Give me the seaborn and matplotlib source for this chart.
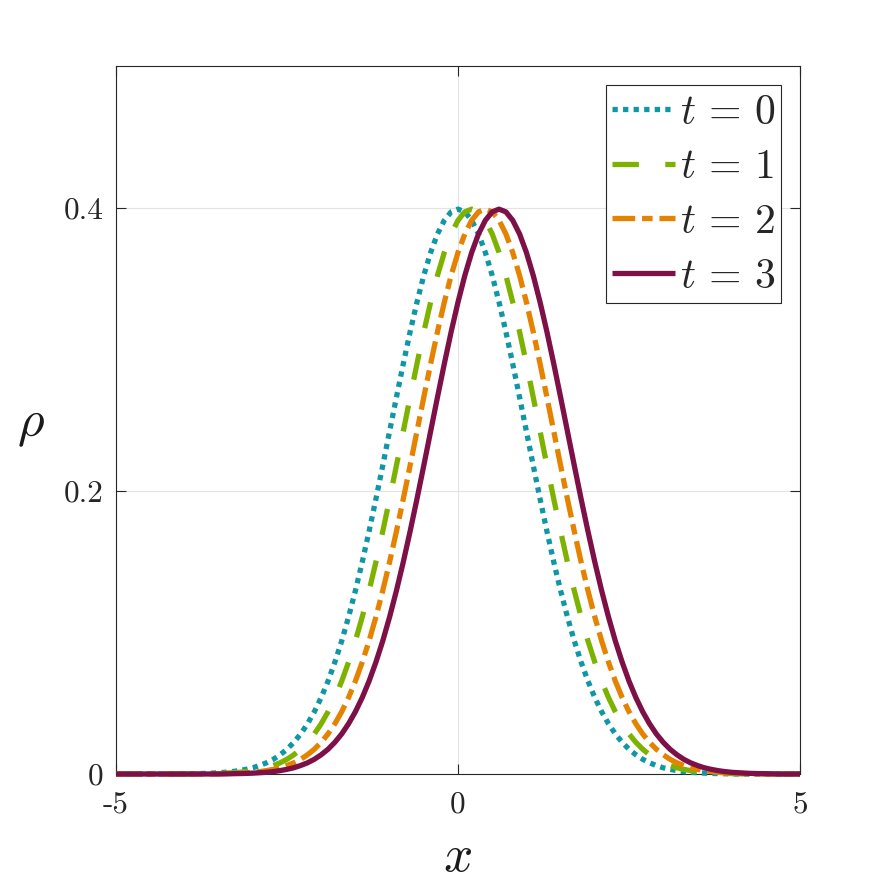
import numpy as np
import pandas as pd
import matplotlib
matplotlib.use("Agg")
import matplotlib.pyplot as plt
import seaborn as sns

# ---- data ----
x_values = np.linspace(-5, 5, 101)

rho_t0 = [0, 0, 0, 0, 0, 0, 0, 0, 0, 0,
          0.0001, 0.0002, 0.0003, 0.0004, 0.0006, 0.0009, 0.0012, 0.0017, 0.0024, 0.0033,
          0.0044, 0.0060, 0.0079, 0.0104, 0.0136, 0.0175, 0.0224, 0.0283, 0.0355, 0.0440,
          0.0540, 0.0656, 0.0790, 0.0940, 0.1109, 0.1295, 0.1497, 0.1714, 0.1942, 0.2179,
          0.2420, 0.2661, 0.2897, 0.3123, 0.3332, 0.3521, 0.3683, 0.3814, 0.3910, 0.3970,
          0.3989, 0.3970, 0.3910, 0.3814, 0.3683, 0.3521, 0.3332, 0.3123, 0.2897, 0.2661,
          0.2420, 0.2179, 0.1942, 0.1714, 0.1497, 0.1295, 0.1109, 0.0940, 0.0790, 0.0656,
          0.0540, 0.0440, 0.0355, 0.0283, 0.0224, 0.0175, 0.0136, 0.0104, 0.0079, 0.0060,
          0.0044, 0.0033, 0.0024, 0.0017, 0.0012, 0.0009, 0.0006, 0.0004, 0.0003, 0.0002,
          0.0001, 0, 0, 0, 0, 0, 0, 0, 0, 0,
          0]

rho_t1 = [0, 0, 0, 0, 0, 0, 0, 0, 0, 0,
          0, 0, 0.0001, 0.0002, 0.0003, 0.0004, 0.0006, 0.0009, 0.0012, 0.0017,
          0.0024, 0.0033, 0.0044, 0.0060, 0.0079, 0.0104, 0.0136, 0.0175, 0.0224, 0.0283,
          0.0355, 0.0440, 0.0540, 0.0656, 0.0790, 0.0940, 0.1109, 0.1295, 0.1497, 0.1714,
          0.1942, 0.2179, 0.2420, 0.2661, 0.2897, 0.3123, 0.3332, 0.3521, 0.3683, 0.3814,
          0.3910, 0.3970, 0.3989, 0.3970, 0.3910, 0.3814, 0.3683, 0.3521, 0.3332, 0.3123,
          0.2897, 0.2661, 0.2420, 0.2179, 0.1942, 0.1714, 0.1497, 0.1295, 0.1109, 0.0940,
          0.0790, 0.0656, 0.0540, 0.0440, 0.0355, 0.0283, 0.0224, 0.0175, 0.0136, 0.0104,
          0.0079, 0.0060, 0.0044, 0.0033, 0.0024, 0.0017, 0.0012, 0.0009, 0.0006, 0.0004,
          0.0003, 0.0002, 0.0001, 0, 0, 0, 0, 0, 0, 0,
          0]

rho_t2 = [0, 0, 0, 0, 0, 0, 0, 0, 0, 0,
          0, 0, 0, 0, 0.0001, 0.0002, 0.0003, 0.0004, 0.0006, 0.0009,
          0.0012, 0.0017, 0.0024, 0.0033, 0.0044, 0.0060, 0.0079, 0.0104, 0.0136, 0.0175,
          0.0224, 0.0283, 0.0355, 0.0440, 0.0540, 0.0656, 0.0790, 0.0940, 0.1109, 0.1295,
          0.1497, 0.1714, 0.1942, 0.2179, 0.2420, 0.2661, 0.2897, 0.3123, 0.3332, 0.3521,
          0.3683, 0.3814, 0.3910, 0.3970, 0.3989, 0.3970, 0.3910, 0.3814, 0.3683, 0.3521,
          0.3332, 0.3123, 0.2897, 0.2661, 0.2420, 0.2179, 0.1942, 0.1714, 0.1497, 0.1295,
          0.1109, 0.0940, 0.0790, 0.0656, 0.0540, 0.0440, 0.0355, 0.0283, 0.0224, 0.0175,
          0.0136, 0.0104, 0.0079, 0.0060, 0.0044, 0.0033, 0.0024, 0.0017, 0.0012, 0.0009,
          0.0006, 0.0004, 0.0003, 0.0002, 0.0001, 0, 0, 0, 0, 0,
          0]

rho_t3 = [0, 0, 0, 0, 0, 0, 0, 0, 0, 0,
          0, 0, 0, 0, 0, 0, 0.0001, 0.0002, 0.0003, 0.0004,
          0.0006, 0.0009, 0.0012, 0.0017, 0.0024, 0.0033, 0.0044, 0.0060, 0.0079, 0.0104,
          0.0136, 0.0175, 0.0224, 0.0283, 0.0355, 0.0440, 0.0540, 0.0656, 0.0790, 0.0940,
          0.1109, 0.1295, 0.1497, 0.1714, 0.1942, 0.2179, 0.2420, 0.2661, 0.2897, 0.3123,
          0.3332, 0.3521, 0.3683, 0.3814, 0.3910, 0.3970, 0.3989, 0.3970, 0.3910, 0.3814,
          0.3683, 0.3521, 0.3332, 0.3123, 0.2897, 0.2661, 0.2420, 0.2179, 0.1942, 0.1714,
          0.1497, 0.1295, 0.1109, 0.0940, 0.0790, 0.0656, 0.0540, 0.0440, 0.0355, 0.0283,
          0.0224, 0.0175, 0.0136, 0.0104, 0.0079, 0.0060, 0.0044, 0.0033, 0.0024, 0.0017,
          0.0012, 0.0009, 0.0006, 0.0004, 0.0003, 0.0002, 0.0001, 0, 0, 0,
          0]

series_labels = [r"$t\, =\, 0$", r"$t\, =\, 1$", r"$t\, =\, 2$", r"$t\, =\, 3$"]
series_values = [rho_t0, rho_t1, rho_t2, rho_t3]

x_ticks = [-5, 0, 5]
x_tick_labels = ["-5", "0", "5"]
y_ticks = [0, 0.2, 0.4]
y_tick_labels = ["0", "0.2", "0.4"]

# ---- styling ----
colors = ["#0f97a6", "#7db300", "#e58200", "#7c1047"]
dash_patterns = [(1.0, 1.0), (5.0, 5.0), (4.3, 1.3, 2.0, 1.3), None]
lw = 3.8

sns.set_theme(style="white")
plt.rcParams["mathtext.fontset"] = "cm"
plt.rcParams["font.family"] = ["DejaVu Sans"]

fig = plt.figure(figsize=(8.86, 8.86), dpi=100)
ax = fig.add_axes([116 / 886, 112 / 886, 684 / 886, 708 / 886])

handles = []
for lab, vals, col, dp in zip(series_labels, series_values, colors, dash_patterns):
    df = pd.DataFrame({"x": x_values, "rho": vals})
    sns.lineplot(data=df, x="x", y="rho", ax=ax, color=col, lw=lw, label=lab,
                 legend=False, clip_on=False, zorder=3)
    ln = ax.lines[-1]
    if dp is not None:
        ln.set_dashes(dp)
        ln.set_dash_capstyle("butt")
    else:
        ln.set_solid_capstyle("butt")
    handles.append(ln)

ax.set_xlim(-5, 5)
ax.set_ylim(0, 0.5)
ax.set_xticks(x_ticks)
ax.set_xticklabels(x_tick_labels, fontfamily="cmr10", fontsize=22.5)
ax.set_yticks(y_ticks)
ax.set_yticklabels(y_tick_labels, fontfamily="cmr10", fontsize=22.5)
ax.tick_params(axis="both", which="major", direction="in", length=7, width=0.8,
               color="#262626", top=True, right=True, bottom=True, left=True,
               labelcolor="#262626")
ax.tick_params(axis="x", pad=12)
ax.tick_params(axis="y", pad=9)
ax.grid(True, color="#e3e3e3", lw=0.8)
ax.set_axisbelow(True)
for s in ax.spines.values():
    s.set_visible(True)
    s.set_color("#262626")
    s.set_linewidth(0.8)

ax.set_xlabel(r"$x$", fontsize=37, labelpad=10, color="#1a1a1a")
ax.set_ylabel(r"$\rho$", fontsize=37, rotation=0, color="#1a1a1a", va="center", ha="center")
ax.yaxis.set_label_coords(-0.125, 0.495)

leg = ax.legend(handles=handles, labels=series_labels, loc="upper right",
                fontsize=30, handlelength=1.5, handletextpad=0.12,
                labelspacing=0.30, borderpad=0.15, borderaxespad=0.45,
                frameon=True, fancybox=False, framealpha=1)
leg.get_frame().set_edgecolor("#262626")
leg.get_frame().set_linewidth(0.8)

fig.savefig("out.png", dpi=100, facecolor="white")
